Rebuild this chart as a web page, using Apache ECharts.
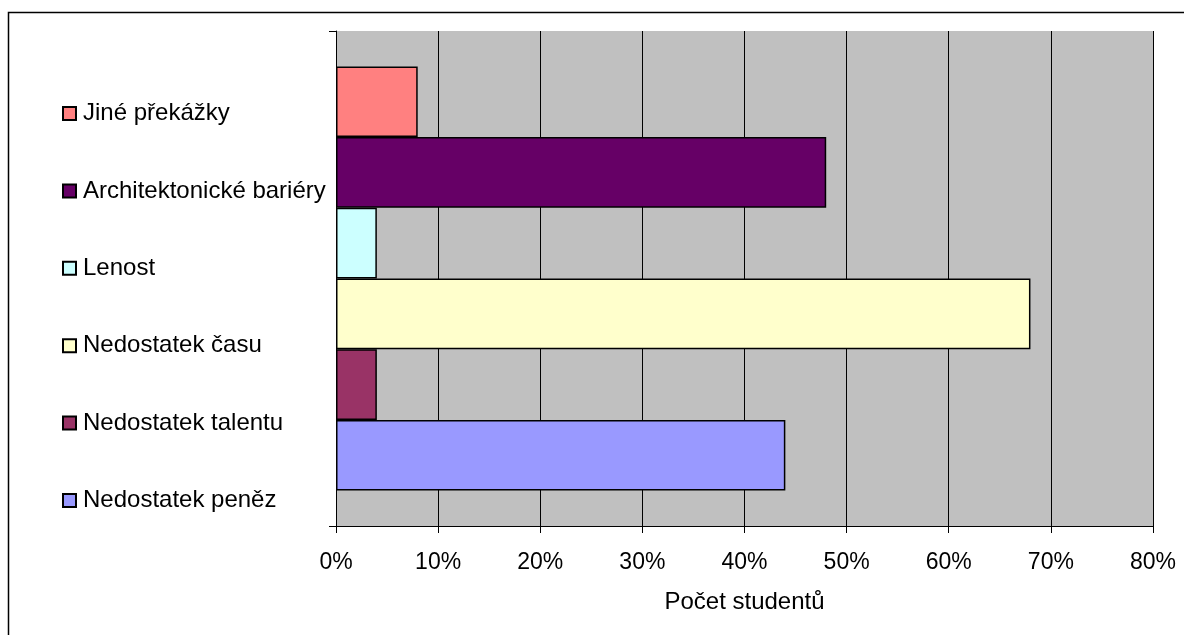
<!DOCTYPE html>
<html>
<head>
<meta charset="utf-8">
<script src="https://cdn.jsdelivr.net/npm/echarts@6/dist/echarts.min.js"></script>
<style>
  html, body { margin: 0; padding: 0; background: #ffffff; }
  #chart { width: 1184px; height: 635px; }
</style>
</head>
<body>
<div id="chart"></div>
<script>
// Reasons (top to bottom) and the share of students naming each one
const reasons = ['Jiné překážky', 'Architektonické bariéry', 'Lenost', 'Nedostatek času', 'Nedostatek talentu', 'Nedostatek peněz'];
const shares = [0.08, 0.48, 0.04, 0.68, 0.04, 0.44];
const colors = ['#FF8080', '#660066', '#CCFFFF', '#FFFFCC', '#993366', '#9999FF'];
const xTicks = [0, 0.1, 0.2, 0.3, 0.4, 0.5, 0.6, 0.7, 0.8];
const xTitle = 'Počet studentů';

const FONT = '"Liberation Sans", Arial, sans-serif';

const chart = echarts.init(document.getElementById('chart'), null, { renderer: 'canvas' });

const series = reasons.map((name, i) => ({
  name: name,
  type: 'bar',
  data: [shares[i]],
  barGap: '0%',
  barCategoryGap: '14.3%',
  itemStyle: { color: colors[i], borderColor: '#000', borderWidth: 1.5 },
  emphasis: { disabled: true }
}));

chart.setOption({
  animation: false,
  backgroundColor: '#ffffff',
  textStyle: { fontFamily: FONT },
  grid: {
    left: 336, top: 31, right: 31, bottom: 109,
    show: true, backgroundColor: '#C0C0C0', borderWidth: 0,
    containLabel: false
  },
  legend: {
    orient: 'vertical',
    left: 62,
    top: 101.5,
    padding: 0,
    itemWidth: 13,
    itemHeight: 13,
    itemGap: 53.4,
    icon: 'rect',
    selectedMode: false,
    data: reasons,
    textStyle: { fontFamily: FONT, fontSize: 24, color: '#000', lineHeight: 24, padding: [0, 0, 0, 2] }
  },
  xAxis: {
    type: 'value',
    min: xTicks[0],
    max: xTicks[xTicks.length - 1],
    interval: xTicks[1] - xTicks[0],
    name: xTitle,
    nameLocation: 'middle',
    nameGap: 64,
    nameTextStyle: { fontFamily: FONT, fontSize: 24, color: '#000' },
    axisLine: { show: true, lineStyle: { color: '#000', width: 1 } },
    axisTick: { show: true, length: 7, lineStyle: { color: '#000' } },
    axisLabel: {
      margin: 25,
      fontFamily: FONT, fontSize: 23, color: '#000',
      formatter: v => Math.round(v * 100) + '%'
    },
    splitLine: { show: true, lineStyle: { color: '#000', width: 1 } }
  },
  yAxis: {
    type: 'category',
    data: [''],
    axisLine: { show: true, lineStyle: { color: '#000', width: 1 } },
    axisTick: { show: true, length: 7, lineStyle: { color: '#000' } },
    axisLabel: { show: false },
    splitLine: { show: false }
  },
  graphic: [{
    type: 'rect',
    shape: { x: 8.5, y: 12.5, width: 1300, height: 800 },
    style: { fill: 'none', stroke: '#000', lineWidth: 1.5 },
    silent: true,
    z: 100
  }],
  series: series
});
</script>
</body>
</html>
